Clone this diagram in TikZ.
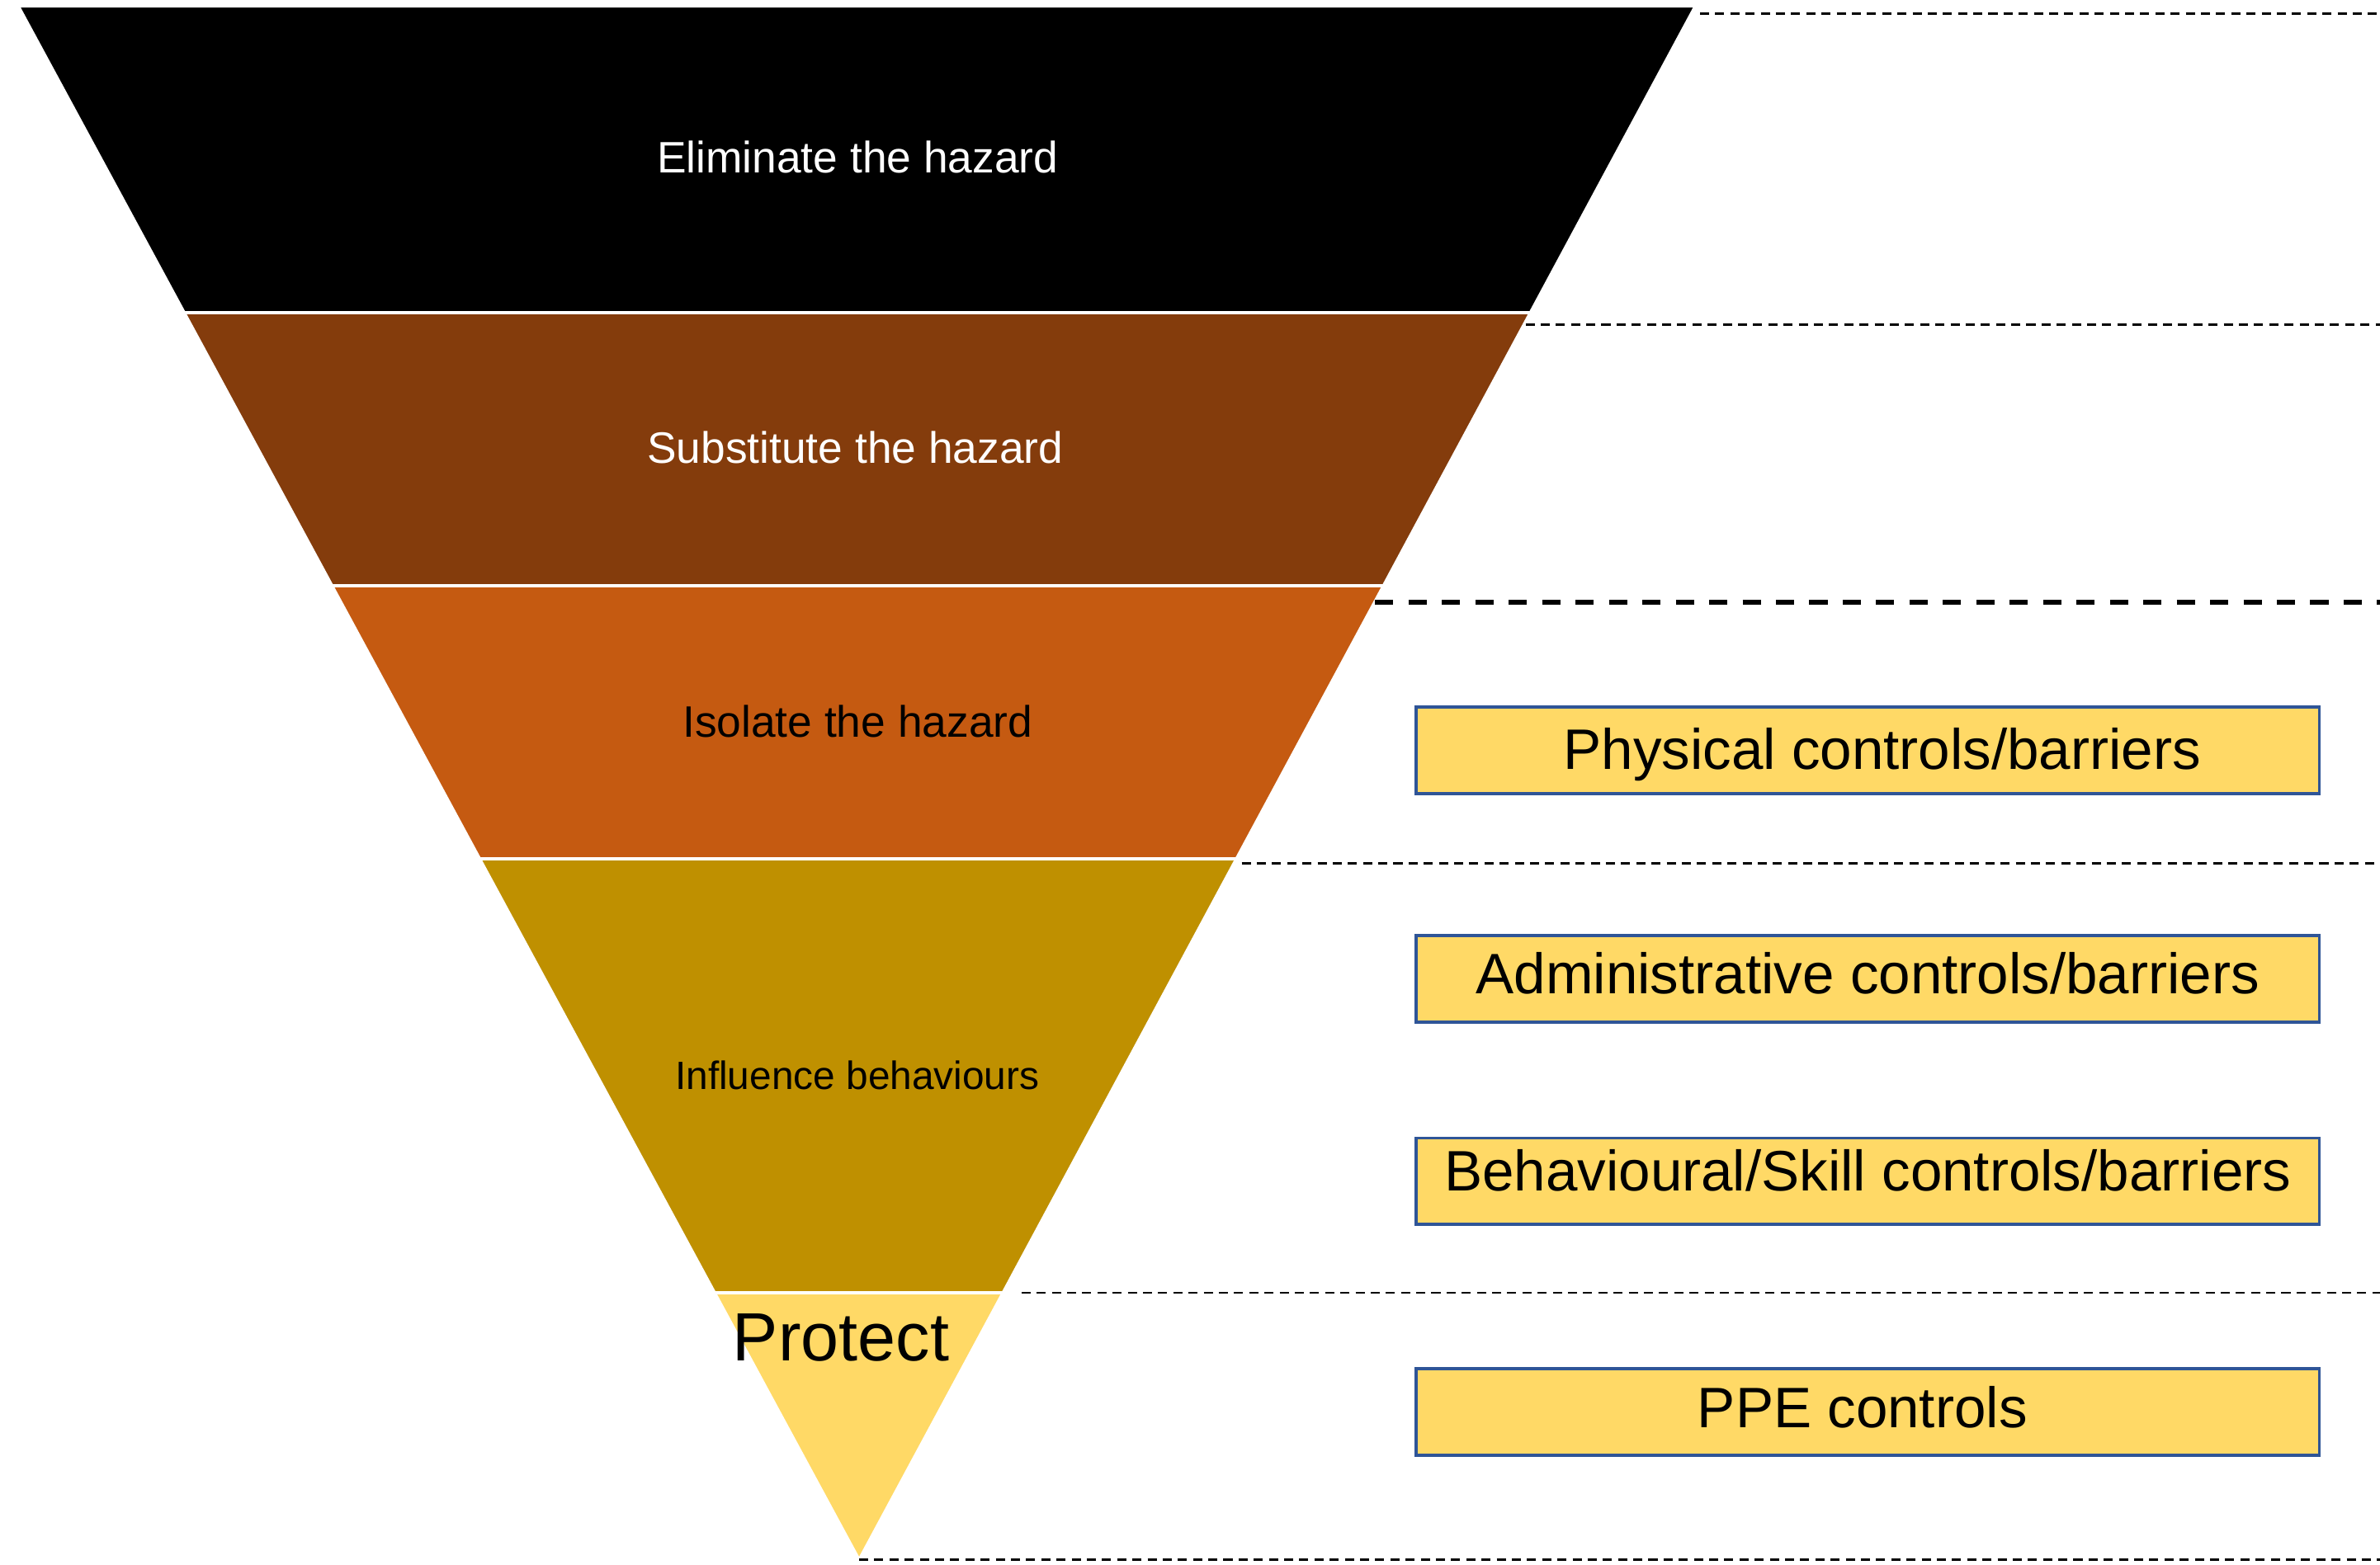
\documentclass[tikz,border=0pt]{standalone}
\usepackage{fontspec}
\setmainfont{Liberation Sans}
\definecolor{bandA}{HTML}{000000}
\definecolor{bandB}{HTML}{843C0C}
\definecolor{bandC}{HTML}{C55A11}
\definecolor{bandD}{HTML}{BF9000}
\definecolor{bandE}{HTML}{FFD966}
\definecolor{boxfill}{HTML}{FFD966}
\definecolor{boxline}{HTML}{2F5597}
\tikzset{
  band/.style={draw=white, line width=2pt, line join=miter},
  bandtext/.style={inner sep=0pt, anchor=base, font=\fontsize{29}{34}\selectfont},
  ctrlbox/.style={draw=boxline, line width=2pt, fill=boxfill, minimum width=595pt, minimum height=57pt, inner sep=0pt, font=\fontsize{37.6}{44}\selectfont},
  thindash/.style={line width=1.5pt, dash pattern=on 6pt off 4pt},
  thickdash/.style={line width=3.5pt, dash pattern=on 12pt off 10pt},
}
\begin{document}
\begin{tikzpicture}[x=1pt,y=-1pt]
\useasboundingbox (0,0) rectangle (1568,1031);
% bands
\fill[band, fill=bandA] (12,4) -- (1117,4) -- (1008.3,206) -- (121.3,206) -- cycle;
\fill[band, fill=bandB] (121.3,206) -- (1008.3,206) -- (911.5,386) -- (218.7,386) -- cycle;
\fill[band, fill=bandC] (218.7,386) -- (911.5,386) -- (814.6,566) -- (316,566) -- cycle;
\fill[band, fill=bandD] (316,566) -- (814.6,566) -- (660.8,852) -- (470.8,852) -- cycle;
\fill[band, fill=bandE] (470.8,852) -- (660.8,852) -- (566,1028) -- cycle;
\draw[band] (121.3,206) -- (1008.3,206);
\draw[band] (218.7,386) -- (911.5,386);
\draw[band] (316,566) -- (814.6,566);
\draw[band] (470.8,852) -- (660.8,852);
% band labels (placed at their baselines)
\node[bandtext, text=white] (elim) at (565,113.8) {Eliminate the hazard};
\node[bandtext, text=white] (subs) at (563.4,305.5) {Substitute the hazard};
\node[bandtext, text=black] (isol) at (565,485.7) {Isolate the hazard};
\node[bandtext, text=black, font=\fontsize{26}{31}\selectfont] (infl) at (564.8,717.7) {Influence behaviours};
\node[bandtext, text=black, font=\fontsize{45}{52}\selectfont] (prot) at (554,896.7) {Protect};
% dashed level lines
\coordinate (d1a) at (1120,9);   \coordinate (d1b) at (1568,9);
\coordinate (d2a) at (1005,214); \coordinate (d2b) at (1568,214);
\coordinate (d3a) at (906,397);  \coordinate (d3b) at (1568,397);
\coordinate (d4a) at (818,569);  \coordinate (d4b) at (1568,569);
\coordinate (d5a) at (673,852);  \coordinate (d5b) at (1568,852);
\coordinate (d6a) at (566,1028); \coordinate (d6b) at (1568,1028);
\draw[thindash] (d1a) -- (d1b);
\draw[thindash] (d2a) -- (d2b);
\draw[thickdash] (d3a) -- (d3b);
\draw[thindash] (d4a) -- (d4b);
\draw[thindash] (d5a) -- (d5b);
\draw[thindash] (d6a) -- (d6b);
% control boxes
\node[ctrlbox, text height=32.6pt, text depth=7.4pt] (phys) at (1230.5,494.5) {\hspace*{19pt}Physical controls/barriers};
\node[ctrlbox, text height=29.7pt, text depth=10.3pt] (admin) at (1230.5,645) {Administrative controls/barriers};
\node[ctrlbox, text height=26.2pt, text depth=13.8pt] (behav) at (1230.5,778.5) {Behavioural/Skill controls/barriers};
\node[ctrlbox, text height=30.6pt, text depth=9.4pt] (ppe) at (1230.5,930.5) {PPE controls\hspace*{7pt}};
\end{tikzpicture}
\end{document}
